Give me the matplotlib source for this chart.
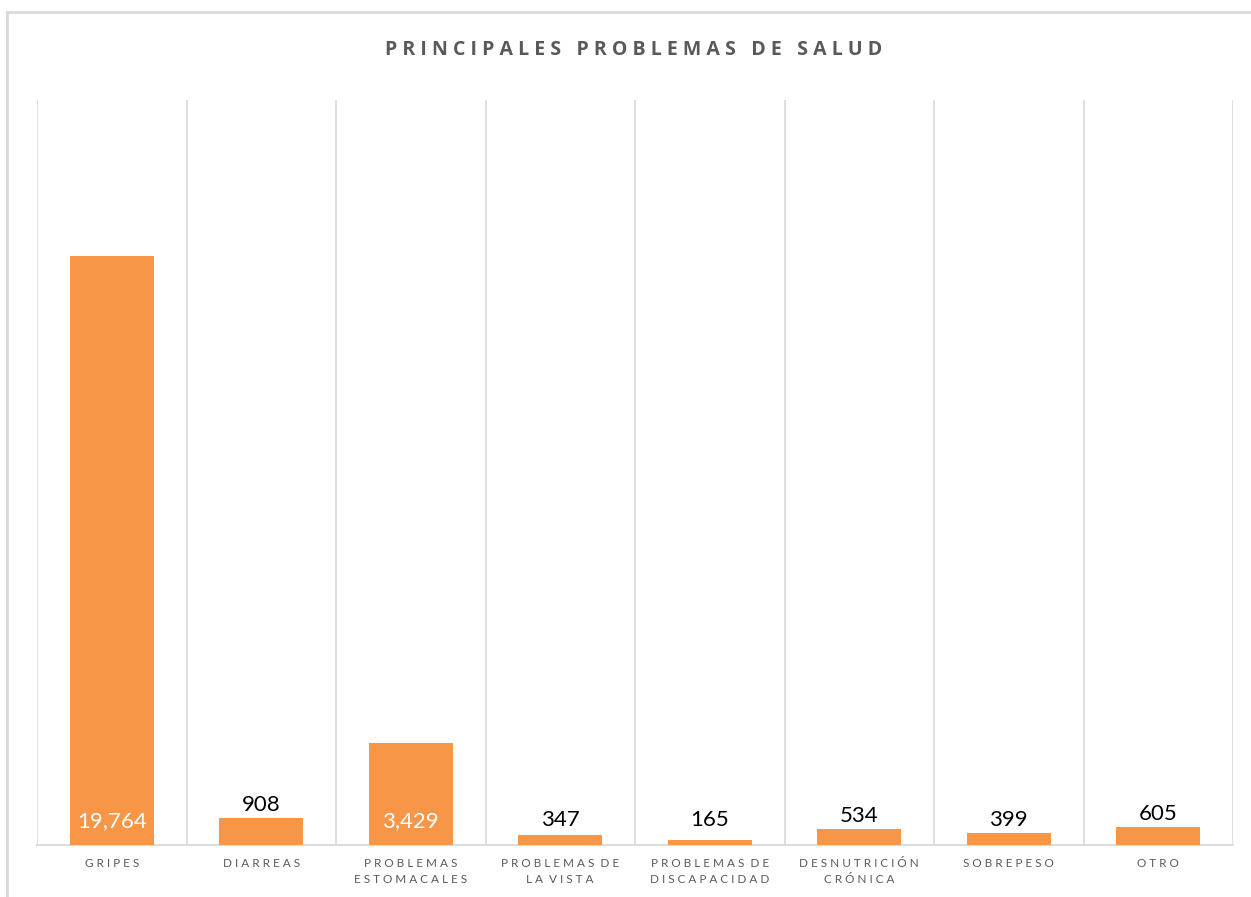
import numpy as np
import matplotlib.pyplot as plt
from matplotlib.lines import Line2D

categories = ["GRIPES", "DIARREAS", "PROBLEMAS\nESTOMACALES", "PROBLEMAS DE\nLA VISTA",
              "PROBLEMAS DE\nDISCAPACIDAD", "DESNUTRICIÓN\nCRÓNICA", "SOBREPESO", "OTRO"]
values = [19764, 908, 3429, 347, 165, 534, 399, 605]


def spaced(s):
    # fake letter spacing like the Excel chart
    lines = []
    for line in s.split("\n"):
        lines.append("  ".join(" ".join(w) for w in line.split(" ")))
    return "\n".join(lines)


W, H = 1251, 897
fig = plt.figure(figsize=(W / 100, H / 100), dpi=100)
ax = fig.add_axes([37 / W, 1 - 845 / H, (1233 - 37) / W, (845 - 100) / H])

grey = "#D9D9D9"
x = np.arange(len(categories))
ax.bar(x, values, width=0.56, color="#F79646", zorder=3)

ax.set_xlim(-0.5, len(categories) - 0.5)
ax.set_ylim(0, 25000)
ax.set_yticks([])
for b in np.arange(-0.5, len(categories), 1.0):
    ax.axvline(b, color=grey, lw=1.2, zorder=1)
for s in ["top", "left", "right"]:
    ax.spines[s].set_visible(False)
ax.spines["bottom"].set_color(grey)
ax.spines["bottom"].set_linewidth(1.3)

ax.set_xticks(x)
ax.set_xticklabels([spaced(c) for c in categories], fontsize=8.5, color="#595959",
                   family=["Lato", "DejaVu Sans"], linespacing=1.65)
ax.tick_params(axis="x", length=0, pad=9)

for xi, v in zip(x, values):
    if v > 2000:
        ax.annotate(f"{v:,}", (xi, 0), xytext=(0, 10), textcoords="offset points",
                    ha="center", va="bottom", fontsize=16, color="white",
                    family=["Lato", "DejaVu Sans"], zorder=4)
    else:
        ax.annotate(f"{v:,}", (xi, max(v, 400)), xytext=(0, 2), textcoords="offset points",
                    ha="center", va="bottom", fontsize=16, color="black",
                    family=["Lato", "DejaVu Sans"], zorder=4)

fig.text(634 / W, 1 - 50 / H, spaced("PRINCIPALES PROBLEMAS DE SALUD").replace("  ", "   "),
         ha="center", va="center", fontsize=14, fontweight="bold", color="#595959",
         family=["Open Sans", "DejaVu Sans"])

# chart area border (only top and left visible in the crop)
fig.add_artist(Line2D([7 / W, 1], [1 - 12.5 / H, 1 - 12.5 / H], color=grey, lw=2))
fig.add_artist(Line2D([7 / W, 7 / W], [0, 1 - 12.5 / H], color=grey, lw=2))

fig.savefig("out.png", dpi=100)
